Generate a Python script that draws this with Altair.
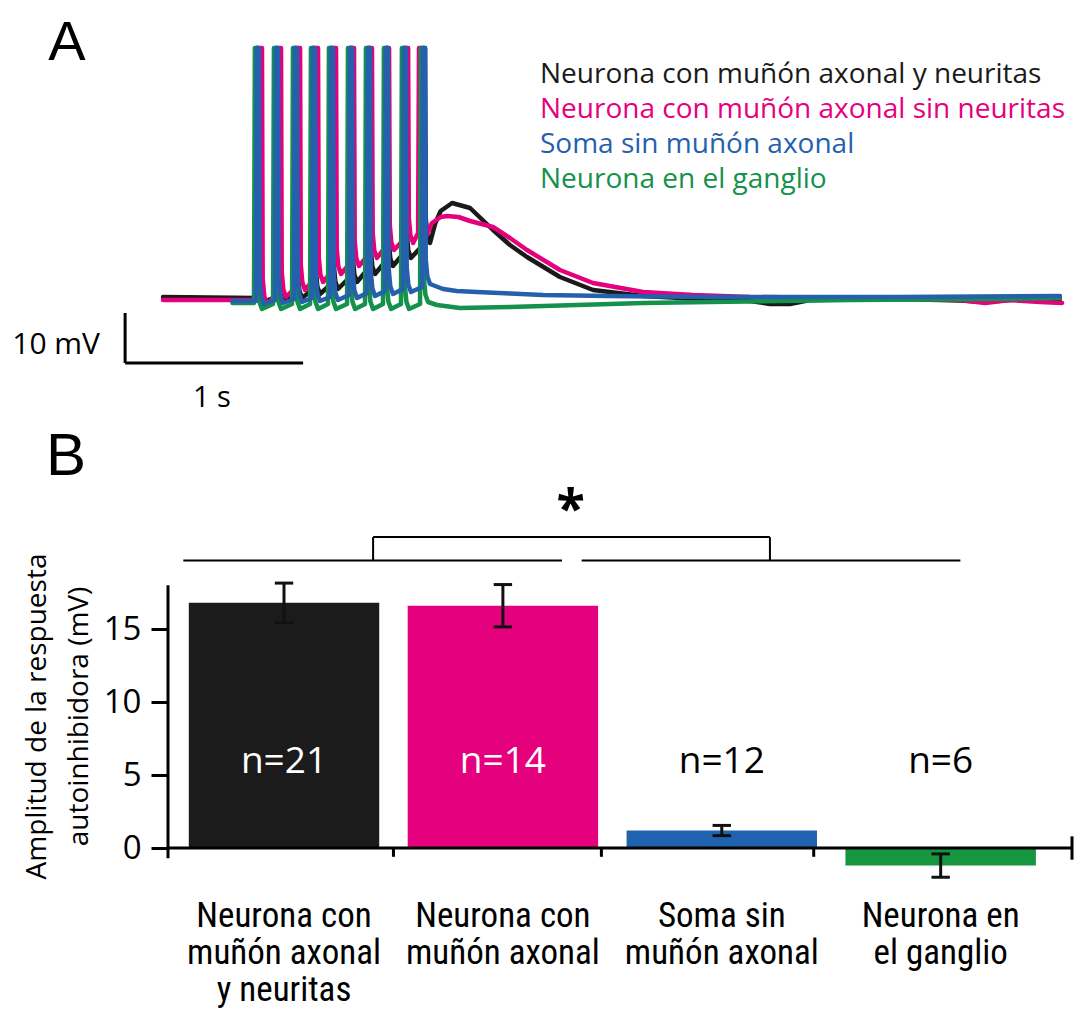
import altair as alt
import pandas as pd

FONT = "Open Sans"
NARROW = "Liberation Sans Narrow, Roboto Condensed, Roboto"
LETTER_FONT = "Liberation Sans"

# ---------------- Panel A : voltage traces ----------------
trace_names = [
    "Neurona con muñón axonal y neuritas",
    "Neurona con muñón axonal sin neuritas",
    "Soma  sin muñón axonal",
    "Neurona en el ganglio",
]
trace_colors = ["#1a1a1a", "#e5007d", "#2560ad", "#14914a"]

SPIKE_PEAK = 50.0  # mV (clipped spike tops)

# black: neurona con muñón axonal y neuritas
black_start = (0.0, 0.2)
black_spike_t = [0.522, 0.629, 0.736, 0.837, 0.938, 1.045, 1.146, 1.247, 1.348, 1.455]
black_pre_v = [0.0, 0.2, 0.8, 1.6, 2.6, 4.0, 5.6, 7.2, 8.8, 10.4]
black_trough_v = [-0.8, -0.6, 0.0, 0.8, 1.8, 3.2, 4.8, 6.4, 8.0, 11.0]
black_post_t = [1.530, 1.560, 1.624, 1.725, 1.854, 1.949, 2.045, 2.230, 2.416, 2.697,
                3.017, 3.298, 3.410, 3.522, 3.635, 4.140, 4.478, 4.618, 4.758, 5.039]
black_post_v = [15.0, 17.4, 19.0, 18.0, 13.6, 10.6, 8.2, 4.2, 1.6, 0.4,
                -0.2, -0.6, -1.2, -1.2, -0.4, -0.2, -0.5, -0.8, -0.4, -0.2]

# pink: neurona con muñón axonal sin neuritas
pink_start = (0.0, -0.4)
pink_spike_t = [0.539, 0.646, 0.753, 0.854, 0.955, 1.056, 1.157, 1.253, 1.360, 1.433]
pink_pre_v = [-0.4, 1.0, 2.4, 4.0, 5.6, 7.2, 8.8, 10.4, 12.0, 13.0]
pink_trough_v = [-1.2, 0.2, 1.6, 3.2, 4.8, 6.4, 8.0, 9.6, 11.0, 12.4]
pink_post_t = [1.511, 1.560, 1.596, 1.660, 1.725, 1.854, 1.949, 2.045, 2.230, 2.416,
               2.697, 2.978, 3.298, 3.860, 4.478, 4.618, 4.758, 4.927, 5.051]
pink_post_v = [15.0, 16.2, 16.4, 16.2, 15.4, 14.2, 12.0, 9.6, 5.6, 3.0,
               1.2, 0.6, 0.2, 0.0, -0.4, -1.0, -0.4, -0.8, -1.0]

# blue: soma sin muñón axonal
blue_start = (0.39, -0.6)
blue_spike_t = [0.522, 0.629, 0.736, 0.837, 0.938, 1.045, 1.146, 1.247, 1.348, 1.455]
blue_pre_v = [-0.6, -0.4, -0.2, 0.0, 0.2, 0.6, 1.0, 1.4, 1.8, 2.2]
blue_trough_v = [-1.2, -1.0, -0.8, -0.6, -0.4, 0.0, 0.4, 0.8, 1.2, 2.8]
blue_post_t = [1.573, 1.650, 1.764, 1.950, 2.135, 2.500, 3.073, 4.140, 5.039]
blue_post_v = [1.8, 1.4, 1.2, 0.9, 0.6, 0.4, 0.2, 0.2, 0.4]

# green: neurona en el ganglio
green_start = (0.39, -1.0)
green_spike_t = [0.511, 0.618, 0.725, 0.826, 0.927, 1.034, 1.135, 1.236, 1.337, 1.444]
green_pre_v = [-1.0, -1.2, -1.2, -1.2, -1.2, -1.2, -1.2, -1.2, -1.2, -1.2]
green_trough_v = [-2.2, -2.2, -2.2, -2.2, -2.2, -2.2, -2.2, -2.2, -2.2, -0.8]
green_post_t = [1.539, 1.669, 1.949, 2.326, 2.697, 3.073, 3.860, 4.702, 5.039]
green_post_v = [-1.4, -2.0, -1.8, -1.4, -1.0, -0.8, -0.4, -0.2, 0.0]

# spike waveform (time offsets after spike onset)
spike_dt = [0.0, 0.005, 0.017, 0.021, 0.030, 0.045]


def build_trace(start, spike_t, pre_v, trough_v, post_t, post_v):
    ts, vs = [start[0]], [start[1]]
    for s, p, tr in zip(spike_t, pre_v, trough_v):
        ts += [s + d for d in spike_dt]
        vs += [p, SPIKE_PEAK, SPIKE_PEAK, tr + 5, tr + 1.5, tr]
    ts += post_t
    vs += post_v
    return pd.DataFrame({"t": ts, "v": vs, "i": range(len(ts))})


traces = [
    build_trace(black_start, black_spike_t, black_pre_v, black_trough_v, black_post_t, black_post_v),
    build_trace(pink_start, pink_spike_t, pink_pre_v, pink_trough_v, pink_post_t, pink_post_v),
    build_trace(green_start, green_spike_t, green_pre_v, green_trough_v, green_post_t, green_post_v),
    build_trace(blue_start, blue_spike_t, blue_pre_v, blue_trough_v, blue_post_t, blue_post_v),
]
trace_draw_colors = [trace_colors[0], trace_colors[1], trace_colors[3], trace_colors[2]]

A_W, A_H = 904, 405
xA = alt.Scale(domain=[0.028, 0.028 + A_W / 178.0], nice=False, zero=False)
yA = alt.Scale(domain=[-23, 58], nice=False, zero=False)

layersA = []
for df, col in zip(traces, trace_draw_colors):
    layersA.append(
        alt.Chart(df).mark_line(color=col, strokeWidth=4.5, strokeJoin="round", strokeCap="round").encode(
            x=alt.X("t:Q", scale=xA, axis=None),
            y=alt.Y("v:Q", scale=yA, axis=None),
            order=alt.Order("i:Q"),
        )
    )

# scale bars: 1 s and 10 mV
sb_time = [1.0]
sb_volt = [10.0]
sb_origin = (-0.213, -13.0)
sb_df = pd.DataFrame({
    "t": [sb_origin[0]], "t2": [sb_origin[0] + sb_time[0]],
    "v": [sb_origin[1]], "v2": [sb_origin[1] + sb_volt[0]],
})
sb_h = alt.Chart(sb_df).mark_rule(color="black", strokeWidth=3).encode(
    x=alt.X("t:Q", scale=xA, axis=None), x2="t2:Q", y=alt.Y("v:Q", scale=yA, axis=None))
sb_v = alt.Chart(sb_df).mark_rule(color="black", strokeWidth=3).encode(
    x=alt.X("t:Q", scale=xA, axis=None), y=alt.Y("v:Q", scale=yA, axis=None), y2="v2:Q")

sb_lab_df = pd.DataFrame({"t": [-0.354, 0.275], "v": [-9.4, -20.0], "txt": ["10 mV", "1 s"]})
sb_lab1 = alt.Chart(sb_lab_df.iloc[[0]]).mark_text(font=FONT, fontSize=30, align="right", baseline="middle",
                                                   color="black").encode(
    x=alt.X("t:Q", scale=xA, axis=None), y=alt.Y("v:Q", scale=yA, axis=None), text="txt:N")
sb_lab2 = alt.Chart(sb_lab_df.iloc[[1]]).mark_text(font=FONT, fontSize=29, align="center", baseline="middle",
                                                   color="black").encode(
    x=alt.X("t:Q", scale=xA, axis=None), y=alt.Y("v:Q", scale=yA, axis=None), text="txt:N")

legend_layers = []
for k, (nm, col) in enumerate(zip(trace_names, trace_colors)):
    legend_layers.append(
        alt.Chart(pd.DataFrame({"txt": [nm]})).mark_text(
            font=FONT, fontSize=28, align="left", baseline="middle", color=col
        ).encode(x=alt.value(372), y=alt.value(67 + 35 * k), text="txt:N")
    )

letterA = alt.Chart(pd.DataFrame({"txt": ["A"]})).mark_text(
    font=LETTER_FONT, fontSize=56, align="center", baseline="alphabetic", color="black"
).encode(x=alt.value(-101), y=alt.value(52), text="txt:N")

panelA = alt.layer(*layersA, sb_h, sb_v, sb_lab1, sb_lab2, *legend_layers, letterA).properties(
    width=A_W, height=A_H)

# ---------------- Panel B : bar chart ----------------
categories = [
    "Neurona con\nmuñón axonal\ny neuritas",
    "Neurona con\nmuñón axonal",
    "Soma sin\nmuñón axonal",
    "Neurona en\nel ganglio",
]
means = [16.8, 16.6, 1.2, -1.2]
sems = [1.35, 1.45, 0.35, 0.8]
n_labels = ["n=21", "n=14", "n=12", "n=6"]
bar_colors = ["#1b1b1b", "#e5007d", "#1f62b0", "#15963f"]
n_label_colors = ["white", "white", "black", "black"]
y_ticks = [0, 5, 10, 15]

bdf = pd.DataFrame({
    "cat": categories, "idx": range(4), "mean": means, "sem": sems,
    "n": n_labels, "bc": bar_colors, "nc": n_label_colors,
})
bdf["lo"] = bdf["mean"] - bdf["sem"]
bdf["hi"] = bdf["mean"] + bdf["sem"]

B_W, B_H = 904, 461
xB = alt.Scale(domain=[-0.53, 3.6], nice=False, zero=False)
yB = alt.Scale(domain=[-2.6, 28.98], nice=False, zero=False)
HALF = 0.435
CAP = 0.042

base = alt.Chart(bdf)
bars = base.mark_rect().encode(
    x=alt.X("x0:Q", scale=xB, axis=None), x2="x1:Q",
    y=alt.Y("zero:Q", scale=yB,
            axis=alt.Axis(values=y_ticks, domain=False, grid=False, tickSize=17, tickWidth=3,
                          tickColor="black", labelFont=FONT, labelFontSize=33, labelColor="black",
                          labelPadding=10,
                          title=["Amplitud de la respuesta", "autoinhibidora (mV)"],
                          titleFont=FONT, titleFontSize=28, titleFontWeight="normal",
                          titleColor="black", titlePadding=10, titleLineHeight=42, titleY=291)),
    y2="mean:Q",
    color=alt.Color("bc:N", scale=None),
).transform_calculate(x0=f"datum.idx - {HALF}", x1=f"datum.idx + {HALF}", zero="0")

err = base.mark_rule(color="#111", strokeWidth=3).encode(
    x=alt.X("idx:Q", scale=xB, axis=None), y=alt.Y("lo:Q", scale=yB), y2="hi:Q")
cap_hi = base.mark_rule(color="#111", strokeWidth=3).encode(
    x=alt.X("c0:Q", scale=xB, axis=None), x2="c1:Q", y=alt.Y("hi:Q", scale=yB)
).transform_calculate(c0=f"datum.idx - {CAP}", c1=f"datum.idx + {CAP}")
cap_lo = base.mark_rule(color="#111", strokeWidth=3).encode(
    x=alt.X("c0:Q", scale=xB, axis=None), x2="c1:Q", y=alt.Y("lo:Q", scale=yB)
).transform_calculate(c0=f"datum.idx - {CAP}", c1=f"datum.idx + {CAP}")

nlab = base.mark_text(font=FONT, fontSize=37, baseline="middle", align="center").encode(
    x=alt.X("idx:Q", scale=xB, axis=None), y=alt.Y("ny:Q", scale=yB), text="n:N",
    color=alt.Color("nc:N", scale=None)
).transform_calculate(ny="5.9")

catlab = base.mark_text(font=NARROW, fontSize=35, baseline="top", align="center", lineBreak="\n",
                        lineHeight=37, color="black").encode(
    x=alt.X("idx:Q", scale=xB, axis=None), y=alt.value(B_H + 13), text="cat:N")

# axes lines (x axis at zero, y axis line), boundary ticks
axis_df = pd.DataFrame({"x0": [-0.53], "x1": [3.6], "y0": [-0.7], "y1": [18.0], "z": [0]})
xline = alt.Chart(axis_df).mark_rule(color="black", strokeWidth=3).encode(
    x=alt.X("x0:Q", scale=xB, axis=None), x2="x1:Q", y=alt.Y("z:Q", scale=yB))
yline = alt.Chart(axis_df).mark_rule(color="black", strokeWidth=3).encode(
    x=alt.X("x0:Q", scale=xB, axis=None), y=alt.Y("y0:Q", scale=yB), y2="y1:Q")
tick_df = pd.DataFrame({"b": [0.5, 1.45, 2.42], "y0": [0.0] * 3, "y1": [-0.6] * 3})
xticks = alt.Chart(tick_df).mark_rule(color="black", strokeWidth=3).encode(
    x=alt.X("b:Q", scale=xB, axis=None), y=alt.Y("y0:Q", scale=yB), y2="y1:Q")
end_df = pd.DataFrame({"b": [3.6], "y0": [-0.8], "y1": [0.8]})
endtick = alt.Chart(end_df).mark_rule(color="black", strokeWidth=3).encode(
    x=alt.X("b:Q", scale=xB, axis=None), y=alt.Y("y0:Q", scale=yB), y2="y1:Q")

# significance bracket
sig_lines = pd.DataFrame({"x0": [-0.46, 1.36, 0.407, 0.407, 2.22],
                          "x1": [1.27, 3.09, 2.22, 0.407, 2.22],
                          "y0": [19.7, 19.7, 21.3, 19.7, 19.7],
                          "y1": [19.7, 19.7, 21.3, 21.3, 21.3]})
sig = alt.Chart(sig_lines).mark_rule(color="black", strokeWidth=2).encode(
    x=alt.X("x0:Q", scale=xB, axis=None), x2="x1:Q", y=alt.Y("y0:Q", scale=yB), y2="y1:Q")
star = alt.Chart(pd.DataFrame({"x": [1.31], "y": [23.1], "s": ["*"]})).mark_text(
    font=FONT, fontSize=52, fontWeight="bold", baseline="middle", align="center", color="black"
).encode(x=alt.X("x:Q", scale=xB, axis=None), y=alt.Y("y:Q", scale=yB), text="s:N")

letterB = alt.Chart(pd.DataFrame({"txt": ["B"]})).mark_text(
    font=LETTER_FONT, fontSize=60, align="center", baseline="alphabetic", color="black"
).encode(x=alt.value(-102), y=alt.value(50), text="txt:N")

panelB = alt.layer(bars, xline, yline, xticks, endtick, err, cap_hi, cap_lo, nlab, catlab, sig, star,
                   letterB).properties(width=B_W, height=B_H)

chart = alt.vconcat(panelA, panelB, spacing=12).configure_view(stroke=None).properties(
    padding={"left": 4, "top": 0, "right": 0, "bottom": 5})

chart.save("out.html", embed_options={"renderer": "svg", "actions": False})
